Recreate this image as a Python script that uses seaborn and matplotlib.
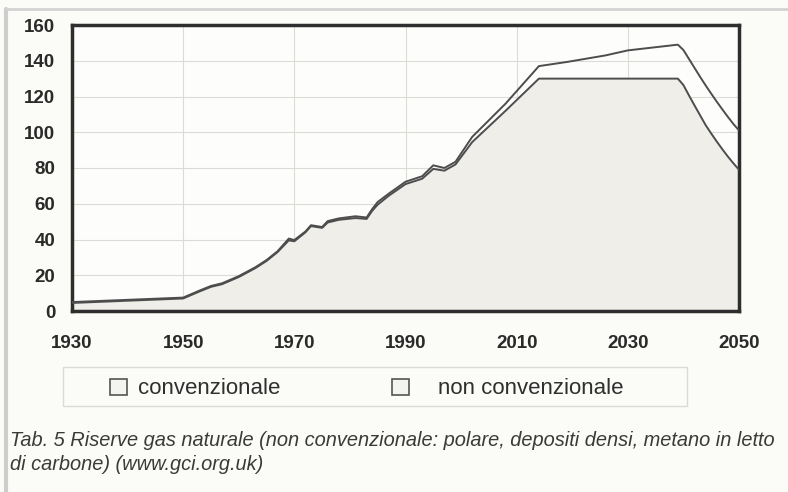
import matplotlib
matplotlib.use("Agg")
import numpy as np
import pandas as pd
import seaborn as sns
import matplotlib.pyplot as plt
from matplotlib.patches import Patch, Rectangle
from matplotlib.lines import Line2D

# dati
anni = [1930, 1950, 1953, 1955, 1957, 1960, 1963, 1965, 1967, 1969, 1970,
        1972, 1973, 1975, 1976, 1978, 1981, 1983, 1984, 1985, 1987, 1990,
        1993, 1995, 1997, 1999, 2002, 2008, 2014, 2019, 2026, 2030, 2039,
        2040, 2041, 2042, 2043, 2044, 2045, 2046, 2047, 2048, 2049, 2050]
convenzionale = [4.5, 7, 11, 13.5, 15, 19, 24, 28, 33, 39.5, 39,
                 44, 47.5, 46.5, 49.5, 51, 52, 51.5, 56, 59.5, 64.5, 71,
                 74, 79.5, 78.5, 82, 94.5, 112, 130, 130, 130, 130, 130,
                 126.4, 120.6, 115, 109.5, 104, 99.3, 94.8, 90.5, 86.4, 82.6, 79]
non_convenzionale = [0.5, 0.5, 0.5, 0.5, 0.5, 0.5, 0.5, 0.5, 0.5, 1, 0.7,
                     0.5, 0.5, 0.5, 0.8, 0.8, 1, 0.8, 1, 1.5, 1.2, 1.3,
                     1.4, 2, 1.5, 1.5, 2.9, 4, 7, 9.3, 13, 15.8, 19,
                     19.6, 20.4, 21, 21.5, 22.2, 22.3, 22.3, 22.3, 22.2, 22, 22]
xticks = [1930, 1950, 1970, 1990, 2010, 2030, 2050]
yticks = [0, 20, 40, 60, 80, 100, 120, 140, 160]
caption_1 = "Tab. 5 Riserve gas naturale (non convenzionale: polare, depositi densi, metano in letto"
caption_2 = "di carbone) (www.gci.org.uk)"

sns.set_theme(style="white")
plt.rcParams['font.family'] = ['Liberation Sans', 'DejaVu Sans']

df = pd.DataFrame({"anno": anni,
                   "convenzionale": convenzionale,
                   "non convenzionale": non_convenzionale})
df["totale"] = df["convenzionale"] + df["non convenzionale"]

paper = '#fbfbf7'
fig = plt.figure(figsize=(7.88, 4.92), dpi=100, facecolor=paper)
ax = fig.add_axes([72/788, 1-311/492, 667/788, 286/492])
ax.set_facecolor('#fdfdfb')

ax.fill_between(df["anno"], 0, df["convenzionale"], color='#efeee9', lw=0, zorder=1)
sns.lineplot(data=df, x="anno", y="convenzionale", color='#4d4d4d', lw=1.4, ax=ax, zorder=3)
sns.lineplot(data=df, x="anno", y="totale", color='#4d4d4d', lw=1.4, ax=ax, zorder=3)

ax.set_xlim(1930, 2050)
ax.set_ylim(0, 160)
ax.set_xticks(xticks)
ax.set_yticks(yticks)
ax.set_xlabel("")
ax.set_ylabel("")
ax.grid(True, color='#dcdcd7', lw=0.8)
ax.set_axisbelow(True)
for s in ax.spines.values():
    s.set_visible(True)
    s.set_color('#2e2e2e')
    s.set_linewidth(2.5)
ax.tick_params(axis='both', length=0, labelsize=13.5, labelcolor='#2a2a2a')
ax.tick_params(axis='x', pad=17)
ax.tick_params(axis='y', pad=12)
for lab in ax.get_xticklabels() + ax.get_yticklabels():
    lab.set_fontweight('bold')

# riquadro legenda
fig.add_artist(Rectangle((63/788, 1-406/492), 624/788, 39/492, transform=fig.transFigure,
                         facecolor='none', edgecolor='#dadada', lw=1))
sq = dict(facecolor='#f3f3ef', edgecolor='#555555', lw=1.2)
leg_kw = dict(frameon=False, fontsize=16, handlelength=0.75, handleheight=0.75,
              loc='center left', borderpad=0, borderaxespad=0, labelcolor='#2f2f2f')
fig.legend([Patch(**sq)], ["convenzionale"], handletextpad=0.5,
           bbox_to_anchor=(110/788, 1-389/492), **leg_kw)
fig.legend([Patch(**sq)], ["non convenzionale"], handletextpad=1.3,
           bbox_to_anchor=(392/788, 1-389/492), **leg_kw)

fig.text(10/788, 1-446/492, caption_1, fontsize=14.4, style='italic', color='#3a3a3a',
         va='baseline', ha='left')
fig.text(10/788, 1-470/492, caption_2, fontsize=14.4, style='italic', color='#3a3a3a',
         va='baseline', ha='left')

# bordo grigio della scansione
fig.add_artist(Line2D([6/788, 6/788], [0, 1-9/492], transform=fig.transFigure, color='#cdcdcd', lw=3))
fig.add_artist(Line2D([6/788, 1], [1-9/492, 1-9/492], transform=fig.transFigure, color='#d3d3d3', lw=2))

fig.savefig("out.png", dpi=100, facecolor=paper)
